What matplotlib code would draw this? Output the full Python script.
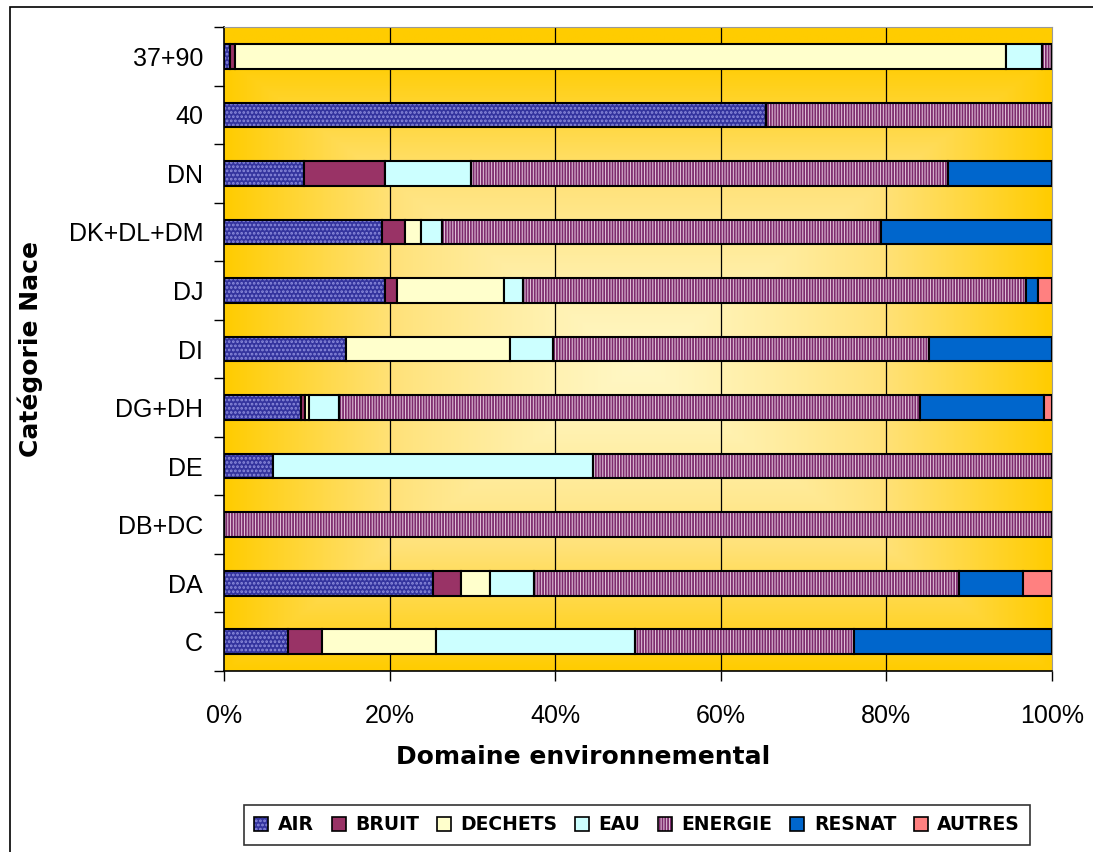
import numpy as np
import matplotlib.pyplot as plt
from matplotlib.colors import LinearSegmentedColormap
from matplotlib.patches import Patch, Rectangle

plt.rcParams['font.family'] = ['Liberation Sans', 'DejaVu Sans']
plt.rcParams['hatch.linewidth'] = 1.3

# categories bottom -> top
categories = ['C', 'DA', 'DB+DC', 'DE', 'DG+DH', 'DI', 'DJ', 'DK+DL+DM', 'DN', '40', '37+90']
domains = ['AIR', 'BRUIT', 'DECHETS', 'EAU', 'ENERGIE', 'RESNAT', 'AUTRES']

air     = [7.7, 25.2, 0.0, 5.9, 9.3, 14.7, 19.4, 19.1, 9.7, 65.5, 0.7]
bruit   = [4.1, 3.4, 0.0, 0.0, 0.5, 0.0, 1.5, 2.8, 9.8, 0.0, 0.6]
dechets = [13.8, 3.5, 0.0, 0.0, 0.5, 19.8, 12.9, 1.9, 0.0, 0.0, 93.2]
eau     = [24.0, 5.3, 0.0, 38.7, 3.6, 5.2, 2.3, 2.5, 10.3, 0.0, 4.3]
energie = [26.5, 51.4, 100.0, 55.4, 70.2, 45.4, 60.8, 53.0, 57.6, 34.5, 1.2]
resnat  = [23.9, 7.7, 0.0, 0.0, 14.9, 14.9, 1.4, 20.7, 12.6, 0.0, 0.0]
autres  = [0.0, 3.5, 0.0, 0.0, 1.0, 0.0, 1.7, 0.0, 0.0, 0.0, 0.0]

series = [air, bruit, dechets, eau, energie, resnat, autres]
# (face colour, hatch, hatch colour)
styles = [
    ('#34349e', '....', '#8c8cdc'),
    ('#993366', None, None),
    ('#ffffcc', None, None),
    ('#ccffff', None, None),
    ('#e8cce0', '||||||', '#7e2c6e'),
    ('#0066cc', None, None),
    ('#ff8080', None, None),
]

fig = plt.figure(figsize=(10.93, 8.52), dpi=100)
# outer chart border (only left and top edges fall inside the picture)
fig.patches.append(Rectangle((0.009, -0.1), 1.2, 1.092, transform=fig.transFigure,
                             fill=False, edgecolor='black', linewidth=1.2))
ax = fig.add_axes([0.2049, 0.2124, 0.7576, 0.7559])

# background gradient: pale in the middle, gold at the edges
nx, ny = 400, 300
gx = np.linspace(-1, 1, nx)
gy = np.linspace(-1, 1, ny)
X, Y = np.meshgrid(gx, gy)
d = np.maximum(np.abs(X), np.abs(Y + 0.05) * 1.05)
d = np.clip(d, 0, 1) ** 1.3
cmap = LinearSegmentedColormap.from_list('bg', ['#fff7c4', '#ffe27a', '#ffcc00'])
ax.imshow(d, extent=(0, 100, -0.5, len(categories) - 0.5), aspect='auto',
          cmap=cmap, vmin=0, vmax=1, zorder=0, origin='lower')

ax.set_xlim(0, 100)
ax.set_ylim(-0.5, len(categories) - 0.5)

for xg in [20, 40, 60, 80]:
    ax.axvline(xg, color='black', linewidth=0.9, zorder=1)

ypos = np.arange(len(categories))
h = 0.42
left = np.zeros(len(categories))
for vals, (fc, hatch, hc) in zip(series, styles):
    vals = np.array(vals)
    if hatch:
        ax.barh(ypos, vals, height=h, left=left, color=fc, hatch=hatch,
                edgecolor=hc, linewidth=0, zorder=2)
        ax.barh(ypos, vals, height=h, left=left, fill=False,
                edgecolor='black', linewidth=1.5, zorder=3)
    else:
        ax.barh(ypos, vals, height=h, left=left, color=fc,
                edgecolor='black', linewidth=1.5, zorder=3)
    left += vals

ax.set_yticks(ypos)
ax.set_yticklabels(categories, fontsize=18)
ax.set_yticks(np.arange(-0.5, len(categories)), minor=True)
ax.tick_params(axis='y', which='major', length=0, pad=15)
ax.tick_params(axis='y', which='minor', length=7, width=1)

ax.set_xticks([0, 20, 40, 60, 80, 100])
ax.set_xticklabels(['0%', '20%', '40%', '60%', '80%', '100%'], fontsize=18)
ax.tick_params(axis='x', length=7, width=1, pad=17)

for s in ['top', 'right']:
    ax.spines[s].set_color('#999999')
ax.spines['left'].set_linewidth(1.2)
ax.spines['bottom'].set_linewidth(1.2)

ax.set_xlabel('Domaine environnemental', fontsize=18, fontweight='bold',
              family='DejaVu Sans')
ax.xaxis.set_label_coords(0.434, -0.115)
ax.set_ylabel('Catégorie Nace', fontsize=18, fontweight='bold', family='DejaVu Sans')
ax.yaxis.set_label_coords(-0.218, 0.5)

handles = []
for name, (fc, hatch, hc) in zip(domains, styles):
    if hatch:
        handles.append((Patch(facecolor=fc, hatch=hatch, edgecolor=hc, linewidth=0),
                        Patch(fill=False, edgecolor='black', linewidth=1.2)))
    else:
        handles.append(Patch(facecolor=fc, edgecolor='black', linewidth=1.2))
leg = fig.legend(handles=handles, labels=domains, loc='center',
                 bbox_to_anchor=(0.583, 0.032), ncol=7, frameon=True, fancybox=False,
                 handlelength=0.75, handleheight=0.75, handletextpad=0.5,
                 columnspacing=0.95, borderpad=0.55, edgecolor='black',
                 prop={'weight': 'bold', 'size': 13.5, 'family': 'DejaVu Sans'})
leg.get_frame().set_linewidth(1.2)

fig.savefig('out.png', dpi=100)
